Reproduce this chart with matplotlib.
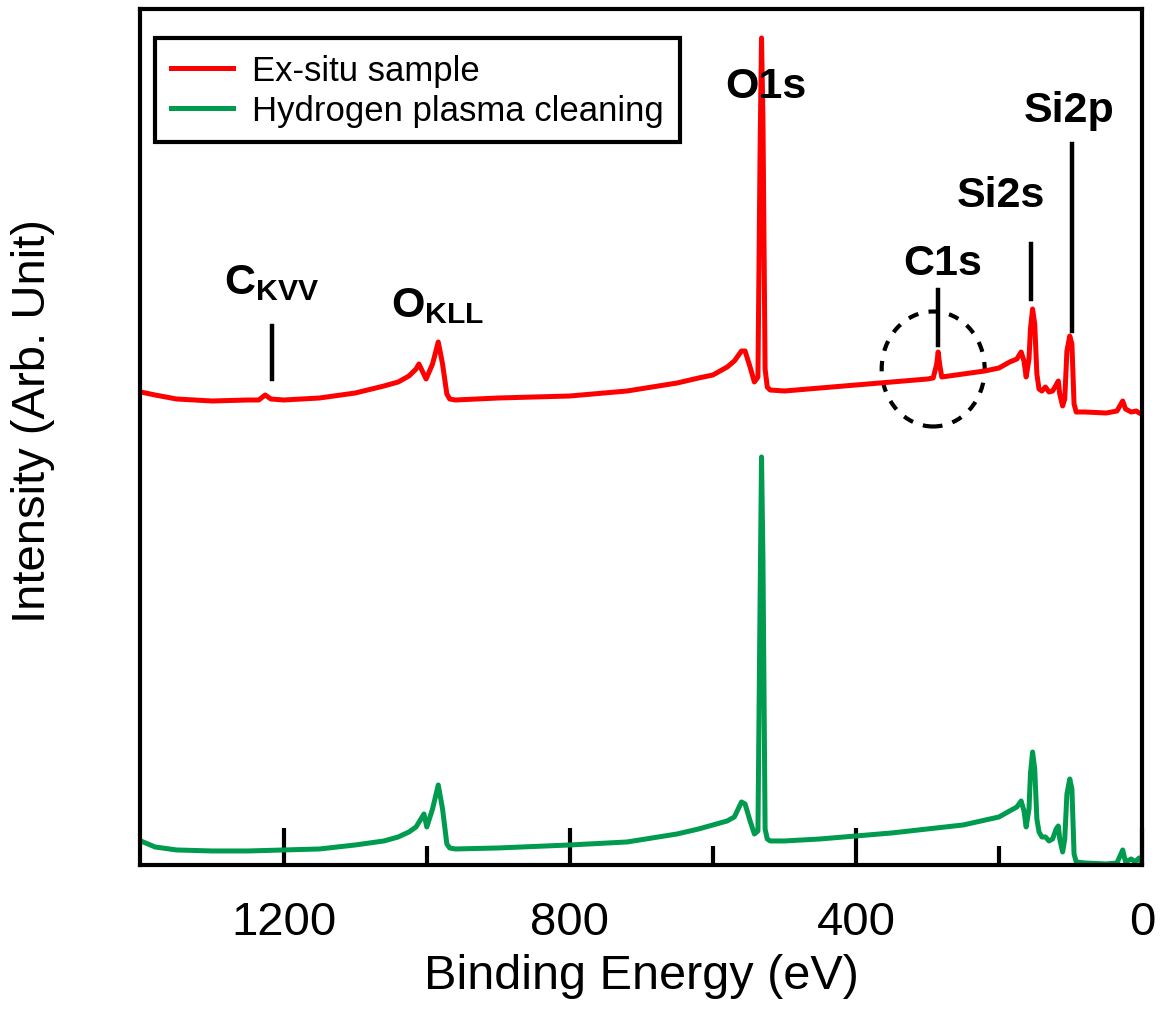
import matplotlib
matplotlib.use("Agg")
import matplotlib.pyplot as plt
from matplotlib.patches import Ellipse

plt.rcParams['font.family'] = ['Liberation Sans', 'DejaVu Sans']
plt.rcParams['mathtext.fontset'] = 'custom'
plt.rcParams['mathtext.rm'] = 'Liberation Sans'
plt.rcParams['mathtext.bf'] = 'Liberation Sans:bold'

# Ex-situ sample (binding energy in eV, intensity in arb. units)
ex_energy = [1400, 1380, 1350, 1300, 1250, 1235, 1226, 1218, 1200, 1150, 1100, 1060,
             1040, 1025, 1015, 1011, 1001, 992, 984, 978, 972, 968, 960, 900, 800, 720,
             650, 620, 600, 580, 570, 560, 555, 548, 542, 537, 534, 532, 530, 527, 524,
             520, 500, 450, 400, 350, 300, 292, 287, 285, 283, 280, 250, 220, 200, 185,
             175, 169, 165, 162, 158, 156, 153, 150, 147, 144, 140, 135, 130, 125, 120,
             117, 115, 111, 108, 105, 101, 98, 95, 92, 80, 50, 35, 27, 23, 15, 8, 4, 0]
ex_int = [473, 470, 466, 464, 465, 465, 470, 466, 465, 467, 472, 479,
          483, 489, 496, 501, 486, 501, 523, 501, 471, 466, 465, 467, 469, 474,
          482, 487, 490, 498, 504, 514, 514, 498, 483, 488, 716, 827, 746, 496, 478,
          475, 474, 477, 480, 483, 486, 487, 501, 513, 501, 488, 491, 494, 497, 503,
          506, 513, 504, 488, 506, 536, 556, 541, 491, 476, 474, 478, 473, 474, 480,
          484, 471, 459, 466, 514, 529, 521, 461, 453, 453, 452, 454, 464, 456, 453, 454, 452, 451]

# Hydrogen plasma cleaning
h_energy = [1400, 1380, 1350, 1300, 1250, 1200, 1150, 1100, 1060, 1040, 1025, 1015,
            1004, 1000, 992, 984, 978, 972, 968, 960, 900, 800, 720, 650, 620, 600,
            580, 570, 560, 555, 548, 542, 537, 534, 532, 530, 527, 524, 520, 500, 450,
            400, 350, 300, 250, 200, 185, 175, 169, 165, 162, 158, 156, 153, 150, 147,
            144, 140, 135, 130, 125, 120, 117, 115, 111, 108, 105, 101, 98, 95, 92, 80,
            50, 35, 27, 23, 15, 10, 4, 0]
h_int = [24, 18, 15, 14, 14, 15, 16, 20, 24, 28, 33, 38,
         51, 38, 56, 80, 56, 21, 17, 16, 17, 20, 23, 31, 36, 40,
         44, 48, 63, 61, 44, 31, 34, 266, 408, 306, 36, 26, 24, 24, 26,
         29, 32, 36, 40, 48, 54, 58, 64, 54, 38, 56, 91, 113, 96, 46,
         33, 28, 28, 24, 26, 36, 39, 26, 13, 26, 71, 86, 76, 11, 3, 2,
         1, 2, 15, 3, 6, 3, 7, 1]

# peak labels: text, energy, text height, marker line (energy, y0, y1) or None
peak_labels = [
    (r'$\mathbf{C_{KVV}}$', 1217, 572, (1217, 486, 539)),
    (r'$\mathbf{O_{KLL}}$', 985, 549, None),
    ('O1s', 526, 768, None),
    ('C1s', 278, 591, (285, 520, 575)),
    ('Si2s', 197, 659, (155, 566, 621)),
    ('Si2p', 102, 744, (98, 534, 721)),
]

red = '#FF0000'
green = '#009B4E'

fig = plt.figure(figsize=(11.64, 10.12), dpi=100)
ax = fig.add_axes([0.1203, 0.1443, 0.8608, 0.8458])

ax.plot(ex_energy, ex_int, color=red, lw=3.6, label='Ex-situ sample')
ax.plot(h_energy, h_int, color=green, lw=3.6, label='Hydrogen plasma cleaning')

for text, xe, ye, mark in peak_labels:
    ax.text(xe, ye, text, fontsize=31, fontweight='bold', ha='center', va='baseline')
    if mark is not None:
        ax.plot([mark[0], mark[0]], [mark[1], mark[2]], color='black', lw=3.2)

# dashed circle around C1s
ax.add_patch(Ellipse((292, 496), width=144, height=115, fill=False,
                     edgecolor='black', lw=3, ls=(0, (2.5, 2.5))))

ax.set_xlim(1401, 0)
ax.set_ylim(0, 856)
ax.set_xticks([1200, 800, 400, 0])
ax.set_xticks([1000, 600, 200], minor=True)
ax.set_yticks([])
ax.tick_params(axis='x', which='major', direction='in', length=26.5, width=3,
               labelsize=34, pad=25)
ax.tick_params(axis='x', which='minor', direction='in', length=13.5, width=3)
for sp in ax.spines.values():
    sp.set_linewidth(3)

ax.set_xlabel('Binding Energy (eV)', fontsize=35, labelpad=7)
ax.set_ylabel('Intensity (Arb. Unit)', fontsize=34)
ax.yaxis.set_label_coords(-0.085, 0.52)

leg = ax.legend(loc='upper left', bbox_to_anchor=(0.015, 0.966), borderaxespad=0,
                fontsize=25, handlelength=1.8, handletextpad=0.55, borderpad=0.45,
                labelspacing=0.2, fancybox=False, framealpha=1, edgecolor='black')
leg.get_frame().set_linewidth(3)

fig.savefig('out.png', dpi=100)
